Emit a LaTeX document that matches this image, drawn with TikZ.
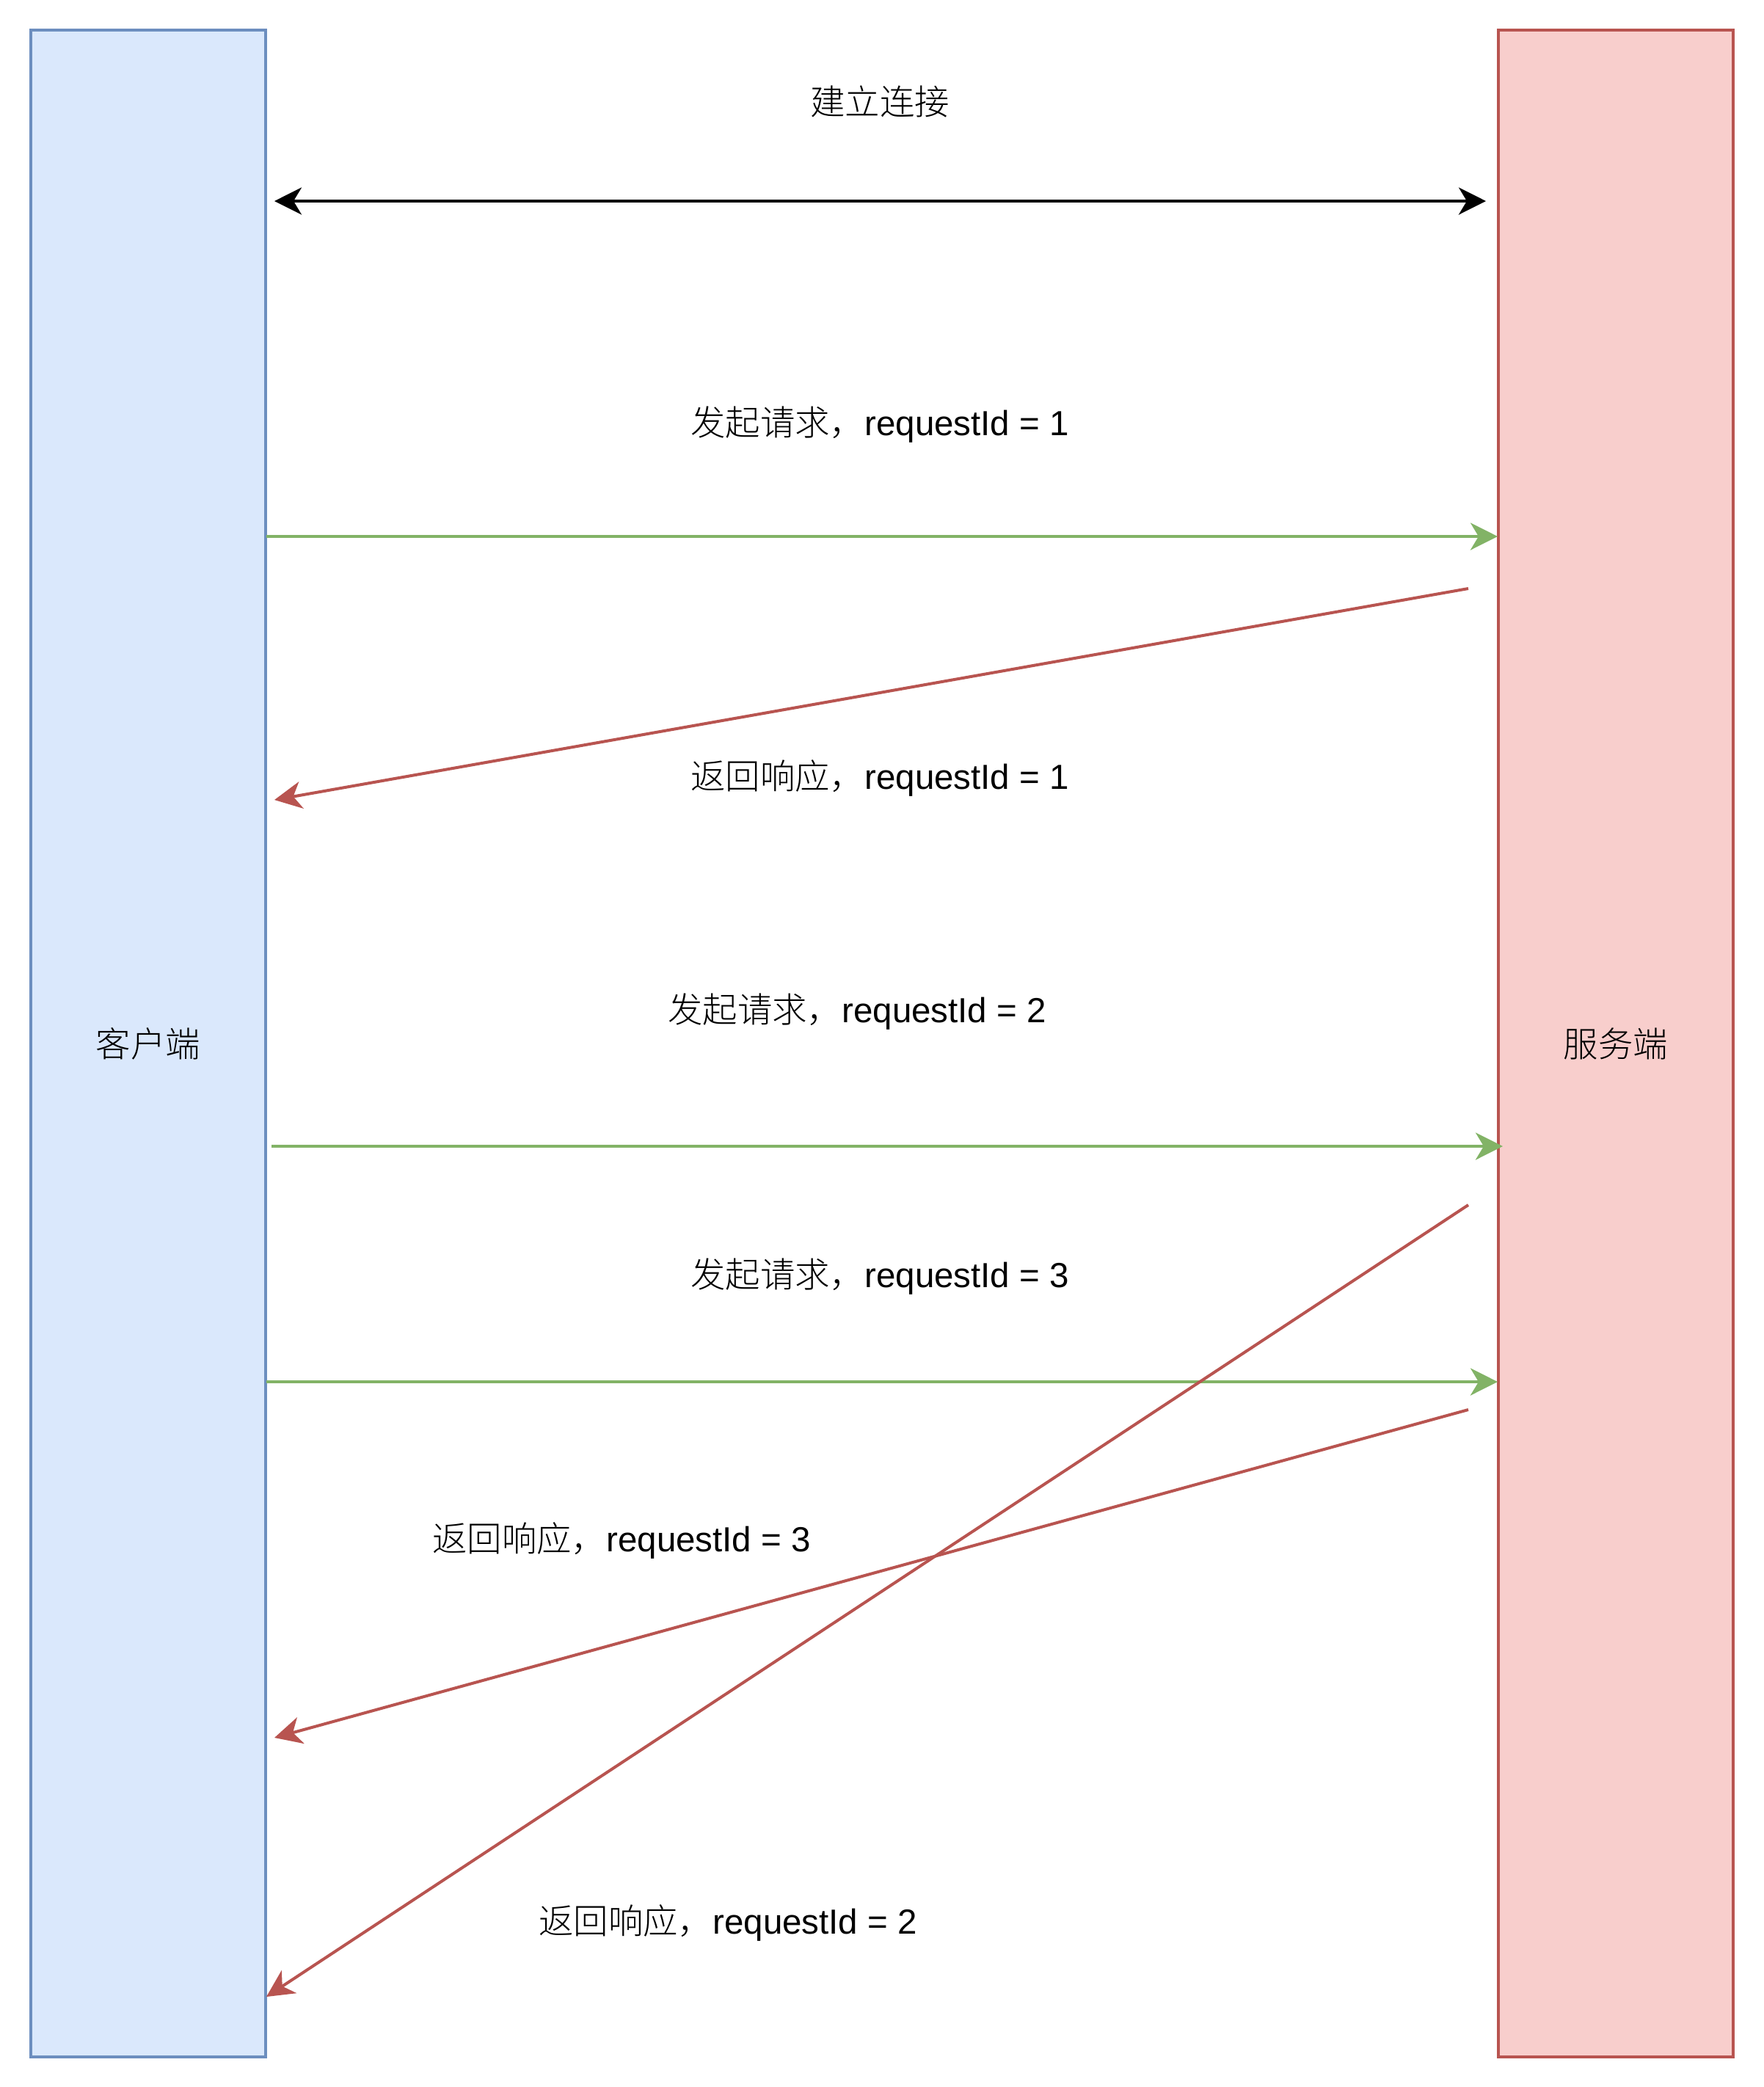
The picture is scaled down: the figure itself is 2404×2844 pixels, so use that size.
\documentclass[tikz,border=0pt]{standalone}
\usepackage{fontspec}
\setmainfont{Liberation Sans}
\newfontfamily\cjk{Noto Sans CJK SC Light}
\usepackage{tikz}
\usetikzlibrary{arrows.meta,positioning,calc}
\definecolor{clientfill}{HTML}{DAE8FC}
\definecolor{clientline}{HTML}{6C8EBF}
\definecolor{serverfill}{HTML}{F8CECC}
\definecolor{serverline}{HTML}{B85450}
\definecolor{reqgreen}{HTML}{82B366}

\begin{document}
\begin{tikzpicture}[x=0.01cm,y=-0.01cm,
  side/.style={rectangle,draw,line width=0.04cm,minimum width=3.2cm,minimum height=27.6cm,inner sep=0pt,font=\fontsize{13.5}{16}\selectfont\cjk},
  head/.tip={Stealth[length=0.37cm,width=0.37cm,inset=0.11cm]},
  req/.style={line width=0.04cm,reqgreen,-head},
  resp/.style={line width=0.04cm,serverline,-head},
  lbl/.style={font=\fontsize{13.5}{16}\selectfont,inner sep=0pt}
]
\useasboundingbox (0,0) rectangle (2404,2844);
\node[side,fill=clientfill,draw=clientline] (client) at (202,1422) {客户端};
\node[side,fill=serverfill,draw=serverline] (server) at (2202,1422) {服务端};

% connection
\coordinate (c0) at (374,274);
\coordinate (s0) at (2025,274);
\draw[line width=0.04cm,head-head] (c0) -- (s0);
\node[lbl] (t0) at (1199,138) {\cjk 建立连接};

% requests
\foreach \i/\y/\xa/\xb in {1/731/363/2041,2/1562/370/2048,3/1883/363/2041}{
  \coordinate (q\i a) at (\xa,\y);
  \coordinate (q\i b) at (\xb,\y);
  \draw[req] (q\i a) -- (q\i b);
}
\node[lbl] (tq1) at (1199,579) {{\cjk 发起请求，}requestId = 1};
\node[lbl] (tq2) at (1168,1379) {{\cjk 发起请求，}requestId = 2};
\node[lbl] (tq3) at (1199,1740) {{\cjk 发起请求，}requestId = 3};

% responses
\foreach \i/\ya/\xb/\yb in {1/802/374/1090,2/1642/363/2721,3/1921/374/2368}{
  \coordinate (r\i a) at (2001,\ya);
  \coordinate (r\i b) at (\xb,\yb);
  \draw[resp] (r\i a) -- (r\i b);
}
\node[lbl] (tr1) at (1199,1060) {{\cjk 返回响应，}requestId = 1};
\node[lbl] (tr3) at (847,2099) {{\cjk 返回响应，}requestId = 3};
\node[lbl] (tr2) at (992,2620) {{\cjk 返回响应，}requestId = 2};
\end{tikzpicture}
\end{document}
